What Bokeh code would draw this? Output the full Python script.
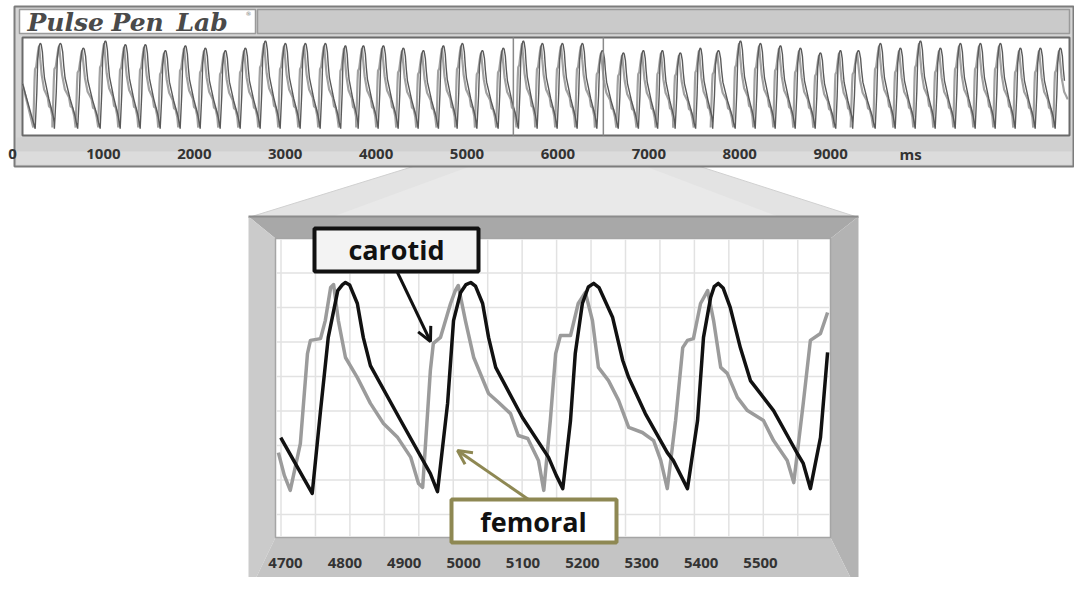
import numpy as np
from bokeh.plotting import figure
from bokeh.models import Range1d, Arrow, OpenHead
from bokeh.core.properties import value
from bokeh.embed import file_html
from bokeh.resources import INLINE

# ---------------- data ----------------
# overview strip (ms)
strip_ticks = [0, 1000, 2000, 3000, 4000, 5000, 6000, 7000, 8000, 9000]
strip_unit = "ms"
strip_window = [5510, 6500]
strip_start = [110, 52]
strip_peak_times = [308, 528, 781, 1023, 1243, 1463, 1683, 1903, 2123, 2343, 2563, 2783,
                    3003, 3223, 3443, 3663, 3861, 4081, 4301, 4521, 4741, 4950, 5170, 5401,
                    5621, 5830, 6050, 6270, 6490, 6722, 6941, 7150, 7348, 7568, 7767, 8009,
                    8229, 8449, 8669, 8889, 9109, 9307, 9549, 9769, 9989, 10209, 10429,
                    10649, 10869, 11089, 11309, 11529]
strip_peak_heights = [86, 86, 82, 88, 85, 85, 80, 84, 82, 80, 82, 88, 86, 86, 86, 84,
                      84, 84, 82, 80, 84, 86, 80, 82, 88, 86, 86, 86, 80, 78, 80, 80, 78, 82, 80,
                      88, 86, 84, 82, 78, 80, 80, 86, 82, 88, 82, 86, 86, 86, 82, 82, 82]
strip_trough = 14

# zoomed panel
panel_ticks = [4700, 4800, 4900, 5000, 5100, 5200, 5300, 5400, 5500]
carotid_t = [4692, 4745, 4759, 4772, 4788, 4796, 4801, 4808, 4821, 4831, 4843, 4894, 4944, 4956,
             4973, 4983, 4995, 5004, 5012, 5020, 5032, 5042, 5054, 5099, 5143, 5156, 5167,
             5180, 5188, 5200, 5210, 5219, 5228, 5251, 5268, 5278, 5306, 5343, 5353, 5377,
             5394, 5404, 5416, 5422, 5429, 5437, 5449, 5466, 5483, 5522, 5562, 5572, 5584,
             5601, 5613]
carotid_v = [33.3, 14.7, 42.3, 66.7, 82.3, 84.3, 85, 84.2, 78, 66.7, 57.3, 39, 21.3, 15.3,
             44.7, 72.3, 81.7, 84.3, 85, 83.8, 78, 66.7, 56.7, 40, 26.7, 20.7, 16.3,
             39, 61.3, 78, 83.5, 84.7, 83.3, 73.3, 59, 53.3, 41.3, 28.3, 25.7, 16.3,
             39, 66.7, 80, 83.6, 84.7, 83.2, 76.7, 63.3, 52.3, 42.3, 28, 24.7, 16.3,
             33.3, 61.7]
femoral_t = [4688, 4698, 4708, 4725, 4737, 4742, 4759, 4767, 4776, 4781, 4789, 4801, 4821,
             4843, 4865, 4889, 4911, 4924, 4931, 4944, 4949, 4961, 4978, 4986, 4991, 5003,
             5017, 5042, 5059, 5079, 5092, 5108, 5126, 5135, 5146, 5155, 5163, 5180, 5193,
             5205, 5217, 5227, 5244, 5261, 5278, 5301, 5320, 5332, 5343, 5357, 5369, 5377,
             5387, 5399, 5411, 5421, 5433, 5444, 5461, 5478, 5505, 5522, 5545, 5556, 5572,
             5584, 5601, 5613]
femoral_v = [28.3, 20.7, 15.7, 31.3, 61.3, 65.7, 66.3, 72.3, 83.3, 84.3, 72.3, 60, 53.3,
             44.7, 38, 33.3, 26.7, 18, 16.7, 55.7, 64.7, 66.7, 78, 82.3, 84, 72.3,
             60, 48, 45, 41.3, 34, 33, 25.7, 15.7, 39, 61.3, 67.3, 67.3, 78,
             81.7, 72.3, 56.7, 52.3, 45.7, 36.7, 35, 32.3, 25.7, 16.3, 39, 63.3, 65.7,
             66.3, 78, 82.3, 72.3, 56.7, 54.7, 46.7, 42.3, 39, 32.3, 25.7, 18.3, 44.7,
             65.7, 68, 75]
label_carotid = "carotid"
label_femoral = "femoral"
logo_words = ["Pulse", "Pen", "Lab"]

# ---------------- mappings (layout) ----------------
def sx(t):
    return 12 + np.asarray(t, float) * 0.0909

def sy(v):
    return 127 - (np.asarray(v, float) - 15) * 1.186

def px(t):
    return 285 + (np.asarray(t, float) - 4700) * 0.59375

def py(v):
    return 537 - 3 * np.asarray(v, float)


def template(ts, vs, t0, t1):
    ts = np.asarray(ts, float); vs = np.asarray(vs, float)
    m = (ts >= t0) & (ts <= t1)
    tt, vv = ts[m], vs[m]
    ph = (tt - t0) / (t1 - t0)
    sh = (vv - vv.min()) / (vv.max() - vv.min())
    return ph, sh, ph[np.argmax(vv)]


STRIP_RIGHT = 1069

def strip_trace(ph, sh, rise, lead, dh):
    T_list = np.diff(strip_peak_times).tolist()
    T_list.append(T_list[-1])
    xs = [strip_start[0]]; ys = [strip_start[1]]
    n = len(strip_peak_times)
    for i, (P, H, T) in enumerate(zip(strip_peak_times, strip_peak_heights, T_list)):
        on = P - lead - rise * T
        k = len(ph) if i == n - 1 else len(ph) - 1
        for j in range(k):
            xs.append(on + ph[j] * T)
            ys.append(strip_trough + sh[j] * (H - dh - strip_trough))
    X, Y = sx(xs), sy(ys)
    keep = X <= STRIP_RIGHT - 1
    return X[keep], Y[keep]


p = figure(width=1074, height=577, x_range=Range1d(0, 1074), y_range=Range1d(577, 0),
           output_backend="svg", toolbar_location=None, min_border=0,
           x_axis_location=None, y_axis_location=None)
p.grid.visible = False
p.outline_line_color = None
p.background_fill_color = "white"
p.border_fill_color = "white"

# zoom trapezoid (behind strip)
w0, w1 = sx(strip_window[0]), sx(strip_window[1])
p.patch([w0, w1, 858, 248], [135, 135, 217, 217], fill_color="#e3e3e3", line_color="#d0d0d0")
p.patch([w0, w1, 780, 330], [150, 150, 217, 217], fill_color="#e9e9e9", line_color=None)

# ---------------- strip ----------------
p.quad(left=14, right=1073, top=6, bottom=166, fill_color="#d4d4d4", line_color="#7c7c7c", line_width=2)
p.quad(left=16, right=1071, top=137, bottom=151, fill_color="#d0d0d0", line_color=None)
p.quad(left=16, right=1071, top=151, bottom=164, fill_color="#dcdcdc", line_color=None)
p.quad(left=19, right=255, top=9, bottom=33, fill_color="white", line_color="#9a9a9a", line_width=1.5)
p.quad(left=257, right=STRIP_RIGHT, top=9, bottom=33, fill_color="#cacaca", line_color="#9a9a9a", line_width=1.5)
p.quad(left=22, right=STRIP_RIGHT, top=37, bottom=135, fill_color="white", line_color="#6a6a6a", line_width=2)

logo_x = [27, 111, 176]
p.text(x=logo_x, y=[22, 22, 22], text=logo_words, text_font=value("DejaVu Serif"),
       text_font_style="bold italic", text_font_size=value("25px"), text_color="#4a4a4a",
       text_align="left", text_baseline="middle")
p.text(x=[248], y=[13], text=["®"], text_font=value("DejaVu Sans"), text_font_size=value("6px"),
       text_color="#777", text_align="center", text_baseline="middle")

ph_c, sh_c, rise_c = template(carotid_t, carotid_v, 4956, 5167)
ph_f, sh_f, rise_f = template(femoral_t, femoral_v, 4931, 5135)
fx, fy = strip_trace(ph_f, sh_f, rise_f, 15, 2)
cx, cy = strip_trace(ph_c, sh_c, rise_c, 0, 0)
p.line(fx, fy, line_color="#a2a2a2", line_width=2.2)
p.line(cx, cy, line_color="#5a5a5a", line_width=1.4)

p.segment(x0=[w0, w1], y0=[37, 37], x1=[w0, w1], y1=[135, 135], line_color="#8a8a8a", line_width=1.5)

p.text(x=sx(strip_ticks), y=[153] * len(strip_ticks), text=[str(t) for t in strip_ticks],
       text_font=value("Open Sans"), text_font_style="bold", text_font_size=value("15px"),
       text_color="#333333", text_align="center", text_baseline="middle")
p.text(x=sx([strip_ticks[-1] + 880]), y=[153], text=[strip_unit], text_font=value("Open Sans"),
       text_font_style="bold", text_font_size=value("15px"), text_color="#333333",
       text_align="center", text_baseline="middle")

# ---------------- zoom panel frame ----------------
p.patch([248, 858, 830, 275], [216, 216, 238, 238], fill_color="#a8a8a8", line_color=None)
p.patch([248, 275, 275, 248], [216, 238, 537, 593], fill_color="#cbcbcb", line_color=None)
p.patch([858, 858, 830, 830], [216, 593, 537, 238], fill_color="#b3b3b3", line_color=None)
p.patch([248, 275, 830, 858], [593, 537, 537, 593], fill_color="#c4c4c4", line_color=None)
p.segment(x0=[248], y0=[216], x1=[858], y1=[216], line_color="#8c8c8c", line_width=2)
p.quad(left=275, right=830, top=238, bottom=537, fill_color="white", line_color="#a5a5a5", line_width=1.5)

gx = 280.5 + 34.45 * np.arange(16)
gy = 238 + 34.5 * np.arange(1, 9)
p.segment(x0=gx, y0=[239] * len(gx), x1=gx, y1=[536] * len(gx), line_color="#e2e2e2", line_width=1.5)
p.segment(x0=[276] * len(gy), y0=gy, x1=[829] * len(gy), y1=gy, line_color="#e2e2e2", line_width=1.5)

p.line(px(femoral_t), py(femoral_v), line_color="#9b9b9b", line_width=3.5, line_join="round")
p.line(px(carotid_t), py(carotid_v), line_color="#111111", line_width=3.5, line_join="round")

p.text(x=px(panel_ticks), y=[562] * len(panel_ticks), text=[str(t) for t in panel_ticks],
       text_font=value("Open Sans"), text_font_style="bold", text_font_size=value("15px"),
       text_color="#333333", text_align="center", text_baseline="middle")

# labels
p.add_layout(Arrow(end=OpenHead(size=14, line_width=3, line_color="#111111"),
                   x_start=397, y_start=272, x_end=430, y_end=341,
                   line_color="#111111", line_width=3))
p.add_layout(Arrow(end=OpenHead(size=14, line_width=3, line_color="#8e8853"),
                   x_start=528, y_start=499, x_end=457, y_end=450,
                   line_color="#8e8853", line_width=3))
p.quad(left=314, right=478, top=228, bottom=271, fill_color="#f3f3f3", line_color="#111111", line_width=4)
p.quad(left=451, right=616, top=499, bottom=542, fill_color="white", line_color="#8e8853", line_width=4)
p.text(x=[396], y=[249], text=[label_carotid], text_font=value("Open Sans"), text_font_style="bold",
       text_font_size=value("27px"), text_color="#111111", text_align="center", text_baseline="middle")
p.text(x=[533], y=[521], text=[label_femoral], text_font=value("Open Sans"), text_font_style="bold",
       text_font_size=value("27px"), text_color="#111111", text_align="center", text_baseline="middle")

open("out.html", "w").write(file_html(p, INLINE))
